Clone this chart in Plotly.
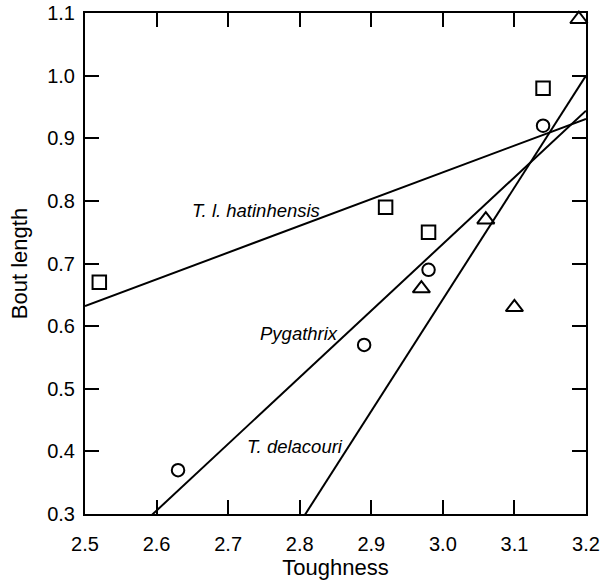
import plotly.graph_objects as go

# Data
hat_x = [2.52, 2.92, 2.98, 3.14]
hat_y = [0.67, 0.79, 0.75, 0.98]
pyg_x = [2.63, 2.89, 2.98, 3.14]
pyg_y = [0.37, 0.57, 0.69, 0.92]
del_x = [2.97, 3.06, 3.10, 3.19]
del_y = [0.66, 0.77, 0.63, 1.09]

# Regression lines (values at the plot edges x=2.5 and x=3.2)
fit_x = [2.5, 3.2]
hat_fit = [0.632, 0.931]
pyg_fit = [0.199, 0.944]
del_fit = [-0.250, 1.0]

x_ticks = [2.5, 2.6, 2.7, 2.8, 2.9, 3.0, 3.1, 3.2]
y_ticks = [0.3, 0.4, 0.5, 0.6, 0.7, 0.8, 0.9, 1.0, 1.1]

FONT = "Liberation Sans, Arial, sans-serif"

fig = go.Figure()
line_style = dict(color="black", width=2)
for fy in [hat_fit, pyg_fit, del_fit]:
    fig.add_trace(go.Scatter(x=fit_x, y=fy, mode="lines", line=line_style,
                             showlegend=False, hoverinfo="skip"))

mk_line = dict(color="black", width=2)
fig.add_trace(go.Scatter(x=hat_x, y=hat_y, mode="markers", cliponaxis=False,
                         marker=dict(symbol="square-open", size=13.5, color="black", line=mk_line),
                         showlegend=False))
fig.add_trace(go.Scatter(x=pyg_x, y=pyg_y, mode="markers", cliponaxis=False,
                         marker=dict(symbol="circle-open", size=12.5, color="black", line=mk_line),
                         showlegend=False))
fig.add_trace(go.Scatter(x=del_x, y=del_y, mode="markers", cliponaxis=False,
                         marker=dict(symbol="triangle-up-open", size=15, color="black", line=mk_line),
                         showlegend=False))

ann_font = dict(family=FONT, size=18.5, color="black")
for txt, ax_, ay_ in [("<i>T. l. hatinhensis</i>", 2.739, 0.785),
                      ("<i>Pygathrix</i>", 2.799, 0.589),
                      ("<i>T. delacouri</i>", 2.793, 0.408)]:
    fig.add_annotation(x=ax_, y=ay_, text=txt, showarrow=False, font=ann_font)

axis_common = dict(showgrid=False, zeroline=False, showline=True, linecolor="black",
                   linewidth=2, mirror="allticks", ticks="inside", ticklen=14, tickwidth=2,
                   tickcolor="black", layer="above traces",
                   tickfont=dict(family=FONT, size=20, color="black"))

fig.update_xaxes(range=[2.5, 3.2], tickmode="array", tickvals=x_ticks,
                 ticktext=[f"{v:.1f}" for v in x_ticks],
                 ticklabelstandoff=11,
                 title=dict(text="Toughness", font=dict(family=FONT, size=22, color="black"),
                            standoff=0),
                 **axis_common)
fig.update_yaxes(range=[0.3, 1.1], tickmode="array", tickvals=y_ticks,
                 ticktext=[f"{v:.1f}" for v in y_ticks],
                 ticklabelstandoff=4,
                 title=dict(text="Bout length", font=dict(family=FONT, size=22, color="black"),
                            standoff=13),
                 **axis_common)

fig.update_layout(width=607, height=580, plot_bgcolor="white", paper_bgcolor="white",
                  margin=dict(l=85, r=21, t=12.5, b=66, autoexpand=False))

# remove the default 8px page margin so the figure sits at the window's corner
fig.write_html("out.html", config={"displayModeBar": False},
               post_script="document.body.style.margin='0';")
